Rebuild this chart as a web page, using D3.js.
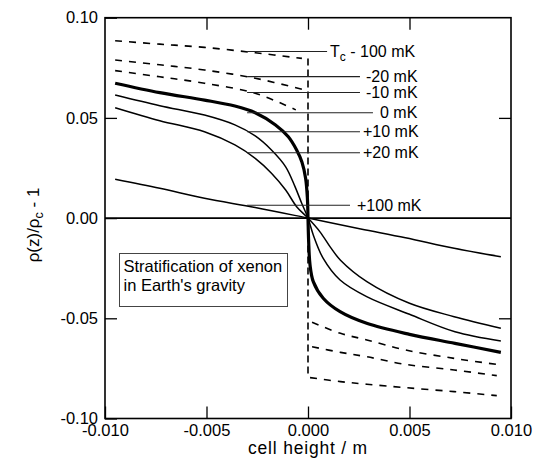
<!DOCTYPE html>
<html>
<head>
    <meta charset="utf-8">
    <title>Stratification of xenon</title>
    <script src="https://d3js.org/d3.v7.min.js"></script>
    <style>
        body {
            margin: 0;
            padding: 0;
            background-color: #fff;
            font-family: 'Liberation Sans', Arial, sans-serif;
        }
        .axis text {
            font-family: 'Liberation Sans', Arial, sans-serif;
            font-size: 16.5px;
            fill: #000;
        }
        .axis path {
            display: none;
        }
        .axis line {
            stroke: #000;
            stroke-width: 1.3;
        }
    </style>
</head>

<body>
    <svg id="chart" width="538" height="469"></svg>

    <script>
        // isotherms above Tc (one curve each, z from -0.0095 to 0.0095 m)
        const isoZero = [[-0.0095,0.0673],[-0.0073,0.0626],[-0.0051,0.0589],[-0.0036,0.0559],[-0.0026,0.0526],
            [-0.0016,0.0465],[-0.00097,0.0406],[-0.00056,0.034],[-0.0003,0.028],[-0.00012,0.02],[-0.00003,0.01],
            [0,0],[0.00003,-0.011],[0.0001,-0.0234],[0.00026,-0.0317],[0.00075,-0.040],[0.00158,-0.0467],
            [0.00289,-0.0525],[0.005,-0.058],[0.00724,-0.0625],[0.0095,-0.067]];
        const isoPlus10 = [[-0.0095,0.0614],[-0.0073,0.0561],[-0.0051,0.0514],[-0.0036,0.0465],[-0.0026,0.041],
            [-0.0018,0.034],[-0.0011,0.0256],[-0.00064,0.0157],[-0.00031,0.0074],[0,0],[0.00026,-0.0084],
            [0.00075,-0.0201],[0.00158,-0.0309],[0.00289,-0.0392],[0.005,-0.048],[0.00724,-0.0567],[0.0095,-0.0613]];
        const isoPlus20 = [[-0.0095,0.0551],[-0.0073,0.0486],[-0.0051,0.0431],[-0.0036,0.0365],[-0.0026,0.0298],
            [-0.0018,0.0224],[-0.0011,0.014],[-0.00056,0.0057],[0,0],[0.0006,-0.007],[0.0011,-0.0145],
            [0.0016,-0.021],[0.0029,-0.0317],[0.005,-0.0425],[0.0072,-0.0492],[0.0095,-0.055]];
        const isoPlus100 = [[-0.0095,0.0194],[-0.0073,0.0149],[-0.0051,0.0099],[-0.0026,0.0053],[0,0],
            [0.0026,-0.0054],[0.0048,-0.0098],[0.0072,-0.0151],[0.0095,-0.0193]];

        // below Tc: vapour / liquid branches (dashed)
        const minus100Top = [[-0.0095,0.0885],[-0.0073,0.0868],[-0.0051,0.0852],[-0.0026,0.0825],[-0.0003,0.0797]];
        const minus100Bottom = [[0.0001,-0.0796],[0.0016,-0.0816],[0.0029,-0.0829],[0.0048,-0.0846],[0.0072,-0.0866],[0.0093,-0.0886]];
        const minus20Top = [[-0.0095,0.0789],[-0.0073,0.0765],[-0.0051,0.0739],[-0.0026,0.0698],[-0.0003,0.0643]];
        const minus20Bottom = [[0.0002,-0.0642],[0.0016,-0.067],[0.0029,-0.0692],[0.0048,-0.073],[0.0072,-0.0758],[0.0093,-0.0786]];
        const minus10Top = [[-0.0095,0.0736],[-0.0073,0.0705],[-0.0051,0.0673],[-0.0026,0.0623],[-0.0006,0.054]];
        const minus10Bottom = [[0.0002,-0.052],[0.0016,-0.0575],[0.0029,-0.0608],[0.0048,-0.0658],[0.0072,-0.07],[0.0093,-0.073]];
        const meniscus = [[0,0.0797],[0,-0.0796]];

        const xTicks = [-0.010, -0.005, 0.000, 0.005, 0.010];
        const yTicks = [-0.10, -0.05, 0.00, 0.05, 0.10];
        const curveLabels = ["- 100 mK", "-20 mK", "-10 mK", "0 mK", "+10 mK", "+20 mK", "+100 mK"];
        const boxText = ["Stratification of xenon", "in Earth's gravity"];

        const svg = d3.select("#chart");
        const x = d3.scaleLinear().domain([-0.01, 0.01]).range([105, 511]);
        const y = d3.scaleLinear().domain([-0.1, 0.1]).range([418.5, 17.7]);
        const fmt = f => v => d3.format(f)(v).replace("\u2212", "-");

        // axes (ticks point inward)
        svg.append("g").attr("class", "axis")
            .attr("transform", "translate(0," + y(-0.1) + ")")
            .call(d3.axisBottom(x).tickValues(xTicks).tickFormat(fmt(".3f")).tickSize(-12).tickPadding(5.5));
        svg.append("g").attr("class", "axis")
            .attr("transform", "translate(0," + y(0.1) + ")")
            .call(d3.axisTop(x).tickValues(xTicks.slice(1, 4)).tickFormat("").tickSize(-12));
        svg.append("g").attr("class", "axis")
            .attr("transform", "translate(" + x(-0.01) + ",0)")
            .call(d3.axisLeft(y).tickValues(yTicks).tickFormat(fmt(".2f")).tickSize(-12).tickPadding(7));
        svg.append("g").attr("class", "axis")
            .attr("transform", "translate(" + x(0.01) + ",0)")
            .call(d3.axisRight(y).tickValues([-0.05, 0.05]).tickFormat("").tickSize(-12));

        // frame
        svg.append("rect")
            .attr("x", x(-0.01)).attr("y", y(0.1))
            .attr("width", x(0.01) - x(-0.01)).attr("height", y(-0.1) - y(0.1))
            .attr("fill", "none").attr("stroke", "#000").attr("stroke-width", 1.6);

        // zero line
        svg.append("line")
            .attr("x1", x(-0.01)).attr("x2", x(0.01))
            .attr("y1", y(0)).attr("y2", y(0))
            .attr("stroke", "#000").attr("stroke-width", 1.6);

        const line = d3.line().x(d => x(d[0])).y(d => y(d[1])).curve(d3.curveCatmullRom.alpha(0.5));

        function drawCurve(data, width, dash) {
            svg.append("path")
                .datum(data)
                .attr("d", line)
                .attr("fill", "none")
                .attr("stroke", "#000")
                .attr("stroke-width", width)
                .attr("stroke-dasharray", dash || null);
        }

        [minus100Top, minus100Bottom, minus20Top, minus20Bottom, minus10Top, minus10Bottom]
            .forEach(d => drawCurve(d, 1.6, "7,7"));
        svg.append("path").datum(meniscus)
            .attr("d", d3.line().x(d => x(d[0])).y(d => y(d[1])))
            .attr("fill", "none").attr("stroke", "#000")
            .attr("stroke-width", 1.6).attr("stroke-dasharray", "7,4");

        drawCurve(isoPlus100, 1.5);
        drawCurve(isoPlus20, 1.5);
        drawCurve(isoPlus10, 1.5);
        drawCurve(isoZero, 3.2);

        // leader lines and labels
        const leaderY = [0.0831, 0.0706, 0.0627, 0.0526, 0.0431, 0.0326, 0.0064];
        const leaderEnd = [0.00094, 0.00256, 0.00256, 0.0032, 0.00256, 0.00256, 0.00207];
        const labelX = [330, 366, 366, 380, 363, 363, 357];

        curveLabels.forEach((t, i) => {
            svg.append("line")
                .attr("x1", x(-0.003)).attr("x2", x(leaderEnd[i]))
                .attr("y1", y(leaderY[i])).attr("y2", y(leaderY[i]))
                .attr("stroke", "#222").attr("stroke-width", 1.1);
            const txt = svg.append("text")
                .attr("x", labelX[i]).attr("y", y(leaderY[i]) + 5.5)
                .attr("font-size", 16);
            if (i == 0) {
                txt.append("tspan").text("T");
                txt.append("tspan").attr("font-size", 12).attr("dy", 4).text("c");
                txt.append("tspan").attr("dy", -4).text(" " + t);
            } else {
                txt.text(t);
            }
        });

        // inset box
        svg.append("rect")
            .attr("x", 119.5).attr("y", 253.5).attr("width", 168).attr("height", 53)
            .attr("fill", "#fff").attr("stroke", "#444").attr("stroke-width", 1);
        boxText.forEach((t, i) => {
            svg.append("text")
                .attr("x", 123.5).attr("y", 272 + i * 18.5)
                .attr("font-size", 16.5)
                .text(t);
        });

        // axis titles
        svg.append("text")
            .attr("x", 308).attr("y", 454)
            .attr("text-anchor", "middle")
            .attr("font-size", 17.5).attr("letter-spacing", 0.8)
            .text("cell height / m");

        const yTitle = svg.append("text")
            .attr("transform", "translate(39,225) rotate(-90)")
            .attr("text-anchor", "middle")
            .attr("font-size", 17);
        yTitle.append("tspan").text("\u03c1(z)/\u03c1");
        yTitle.append("tspan").attr("font-size", 12.5).attr("dy", 4).text("c");
        yTitle.append("tspan").attr("dy", -4).text(" - 1");
    </script>
</body>
</html>
